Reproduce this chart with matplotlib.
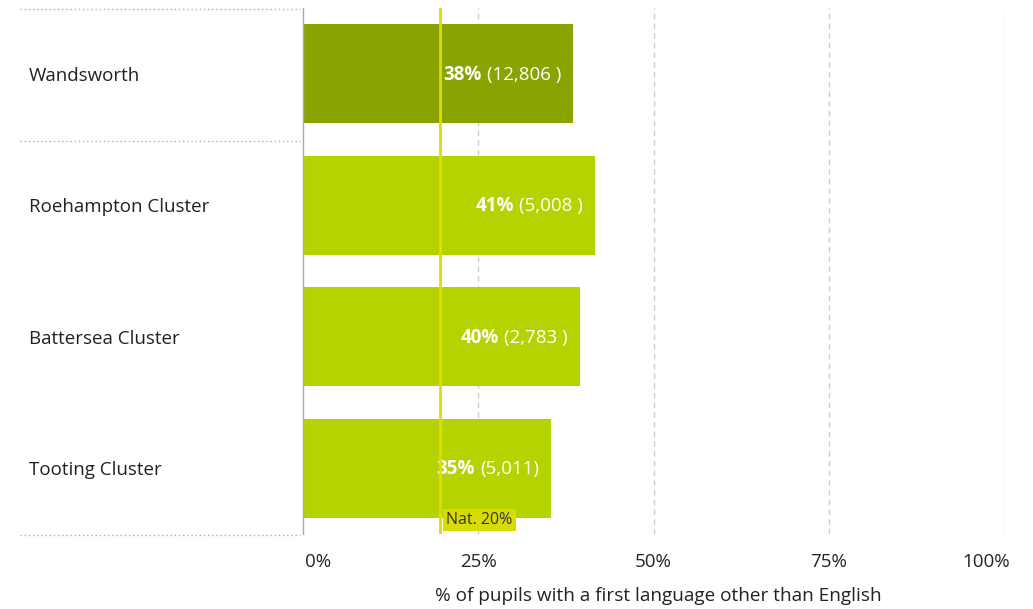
import matplotlib
matplotlib.use("Agg")
import matplotlib.pyplot as plt
from matplotlib.lines import Line2D

categories = ["Wandsworth", "Roehampton Cluster", "Battersea Cluster", "Tooting Cluster"]
values = [38.5, 41.6, 39.5, 35.4]
pct_labels = ["38%", "41%", "40%", "35%"]
count_labels = ["(12,806 )", "(5,008 )", "(2,783 )", "(5,011)"]
bar_colors = ["#8ba300", "#b5d300", "#b5d300", "#b5d300"]
nat_value = 19.6
nat_label = "Nat. 20%"
xticks = [0, 25, 50, 75, 100]
xtick_labels = ["0%", "25%", "50%", "75%", "100%"]
xlabel = "% of pupils with a first language other than English"

plt.rcParams['font.family'] = ['Open Sans', 'DejaVu Sans']

W, H = 1033, 609
fig = plt.figure(figsize=(W / 100, H / 100), dpi=100)
ax = fig.add_axes([303 / W, 1 - 534 / H, (1004 - 303) / W, (534 - 8) / H])

ypos = list(range(len(categories)))
ax.barh(ypos, values, height=0.75, color=bar_colors, zorder=2)
ax.set_ylim(len(categories) - 0.5, -0.5)
ax.set_xlim(0, 100)

for x in xticks[1:]:
    ax.axvline(x, color="#cccccc", lw=1, ls=(0, (4, 3)), zorder=1)

for s in ["top", "right", "bottom"]:
    ax.spines[s].set_visible(False)
ax.spines["left"].set_color("#aaaaaa")
ax.spines["left"].set_linewidth(1)
ax.set_xticks([])
ax.set_yticks([])

# tick labels
for x, lab in zip(xticks, xtick_labels):
    ha = "left" if x == 0 else ("right" if x == 100 else "center")
    dx = 2 if x == 0 else (6 if x == 100 else 0)
    ax.annotate(lab, xy=(x, 0), xycoords=("data", "axes fraction"),
                xytext=(dx, -28), textcoords="offset pixels",
                ha=ha, va="center", fontsize=13.5, color="#222222")
fig.text(658 / W, 1 - 596 / H, xlabel, ha="center", va="center",
         fontsize=13.7, color="#222222")

# category labels
for y, c in zip(ypos, categories):
    ax.annotate(c, xy=(0, y), xycoords=("figure pixels", "data"),
                xytext=(29, -2), textcoords="offset pixels",
                ha="left", va="center", fontsize=13.5, color="#222222")

# separators
for yy in [8.5, 140.5, 534.5]:
    fig.add_artist(Line2D([20 / W, 300 / W], [1 - yy / H, 1 - yy / H],
                          transform=fig.transFigure, color="#aaaaaa",
                          lw=1, ls=(0, (1, 2))))

# value labels
fig.canvas.draw()
renderer = fig.canvas.get_renderer()
for y, v, p, c in zip(ypos, values, pct_labels, count_labels):
    t = ax.annotate(c, xy=(v, y), xytext=(-12, -1), textcoords="offset pixels",
                    ha="right", va="center", fontsize=13.5, color="white", zorder=3)
    bb = t.get_window_extent(renderer)
    wpx = bb.width
    ax.annotate(p, xy=(v, y), xytext=(-12 - wpx - 5, -1), textcoords="offset pixels",
                ha="right", va="center", fontsize=13.5, color="white",
                fontweight="bold", zorder=3)

# national line
ax.axvline(nat_value, color="#dede00", lw=2, zorder=4)
ax.annotate(nat_label, xy=(nat_value, 0), xycoords=("data", "axes fraction"),
            xytext=(6, 14), textcoords="offset pixels", ha="left", va="center",
            fontsize=11.5, color="#333333", zorder=5,
            bbox=dict(boxstyle="square,pad=0.2", fc="#d9dc00", ec="none"))

fig.savefig("out.png", dpi=100)
